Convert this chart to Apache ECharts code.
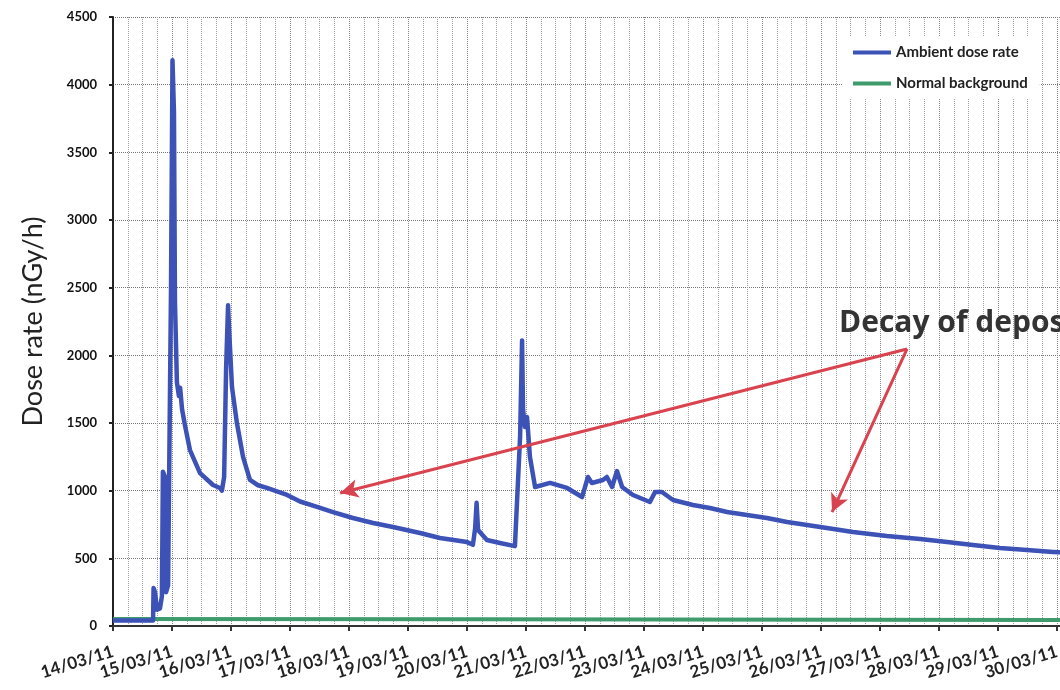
<!DOCTYPE html>
<html>
<head>
<meta charset="utf-8">
<script src="https://cdn.jsdelivr.net/npm/echarts@6/dist/echarts.min.js"></script>
<style>
html,body{margin:0;padding:0;background:#fff;}
#chart{width:1060px;height:690px;}
</style>
</head>
<body>
<div id="chart"></div>
<script>
// Hours since 14/03/11 00:00
var doseHours = [0, 15.0, 16.3, 16.5, 17.1, 17.9, 19.1, 19.9, 20.3, 21.2, 21.6, 22.4, 23.6, 24.2, 24.8, 25.2, 26.0, 26.8, 27.3, 28.1, 29.3, 31.3, 35.4, 40.7, 43.5, 44.3, 45.2, 46.0, 46.8, 47.2, 48.4, 50.4, 52.9, 55.7, 59.0, 62.6, 70.8, 76.1, 83.0, 89.5, 97.6, 105.8, 113.9, 124.9, 133.0, 144.0, 146.4, 147.3, 147.9, 148.5, 152.1, 157.4, 163.5, 164.3, 165.6, 166.4, 166.8, 167.6, 168.4, 169.0, 169.6, 171.7, 177.8, 184.7, 190.8, 193.2, 194.8, 199.3, 200.9, 203.0, 205.0, 207.1, 211.5, 218.4, 220.5, 223.3, 227.8, 235.9, 242.8, 249.8, 257.9, 266.0, 274.2, 282.3, 290.4, 301.0, 314.8, 328.3, 339.3, 349.8, 360.8, 371.8, 382.4, 387.3];
var doseValues = [40, 40, 40, 280, 250, 120, 130, 220, 1140, 1100, 250, 300, 2500, 4180, 3800, 2400, 1800, 1700, 1760, 1600, 1480, 1300, 1130, 1042, 1020, 1000, 1100, 1900, 2370, 2200, 1766, 1500, 1250, 1079, 1040, 1020, 968, 920, 880, 842, 798, 761, 731, 687, 650, 620, 600, 720, 910, 709, 635, 613, 590, 580, 1400, 2110, 1600, 1470, 1545, 1400, 1250, 1027, 1057, 1020, 953, 1101, 1057, 1079, 1101, 1027, 1145, 1027, 968, 916, 990, 990, 931, 894, 872, 842, 820, 798, 768, 746, 724, 695, 665, 643, 620, 598, 576, 561, 547, 542];
var bgHours = [0, 150, 300, 408];
var bgValues = [52, 50, 46, 43];
var dateLabels = ['14/03/11','15/03/11','16/03/11','17/03/11','18/03/11','19/03/11','20/03/11','21/03/11','22/03/11','23/03/11','24/03/11','25/03/11','26/03/11','27/03/11','28/03/11','29/03/11','30/03/11'];
var yTicks = [0, 500, 1000, 1500, 2000, 2500, 3000, 3500, 4000, 4500];
var arrowApex = [323, 2047];
var arrowTips = [[92.4, 983], [292.5, 842]];

function zip(a, b){ return a.map(function(v,i){ return [v, b[i]]; }); }

var chart = echarts.init(document.getElementById('chart'), null, {renderer:'canvas'});
var FONT = 'Lato, "Open Sans", sans-serif';
var option = {
  animation: false,
  backgroundColor: '#fff',
  grid: {left: 113, top: 17, width: 1003, height: 609, containLabel: false, outerBoundsMode: 'none'},
  legend: {
    orient: 'vertical', left: 843, top: 37,
    padding: [8, 12, 8, 10], itemGap: 16,
    backgroundColor: '#fff',
    itemWidth: 38, itemHeight: 4, icon: 'rect',
    textStyle: {fontFamily: FONT, fontWeight: 'bold', fontSize: 15, color: '#222'},
    data: ['Ambient dose rate', 'Normal background']
  },
  xAxis: {
    type: 'value', min: 0, max: 408, interval: 24,
    axisLine: {show: true, lineStyle: {color: '#333', width: 2}},
    axisTick: {show: true, length: 5, lineStyle: {color: '#333', width: 2}},
    minorTick: {show: false, splitNumber: 4},
    minorSplitLine: {show: true, lineStyle: {color: '#a0a0a0', type: 'dotted', width: 1}},
    splitLine: {show: true, lineStyle: {color: '#888', type: 'dotted', width: 1}},
    axisLabel: {
      rotate: 17, margin: 25, fontFamily: FONT, fontWeight: 'bold', fontSize: 17, color: '#222',
      formatter: function(v){ var i = Math.round(v/24); return dateLabels[i] || ''; }
    }
  },
  yAxis: {
    type: 'value', min: 0, max: 4500, interval: 500,
    name: 'Dose rate (nGy/h)', nameLocation: 'middle', nameGap: 66, nameRotate: 90,
    nameTextStyle: {fontFamily: FONT, fontSize: 27, color: '#222'},
    axisLine: {show: true, lineStyle: {color: '#222', width: 2}},
    axisTick: {show: true, length: 4, lineStyle: {color: '#222', width: 2}},
    splitLine: {show: true, lineStyle: {color: '#777', type: 'dotted', width: 1}},
    axisLabel: {
      margin: 16, fontFamily: FONT, fontWeight: 'bold', fontSize: 13, color: '#111',
      formatter: function(v){ return yTicks.indexOf(v) >= 0 ? String(v) : ''; }
    }
  },
  series: [
    {
      name: 'Normal background', type: 'line', data: zip(bgHours, bgValues),
      showSymbol: false, lineStyle: {color: '#3f9b6c', width: 4}, itemStyle: {color: '#3f9b6c'},
      z: 2
    },
    {
      name: 'Ambient dose rate', type: 'line', data: zip(doseHours, doseValues),
      showSymbol: false, lineStyle: {color: '#3d52b6', width: 4.5, join: 'round'}, itemStyle: {color: '#3d52b6'},
      z: 3,
      markLine: {
        silent: true, symbol: ['none', 'arrow'], symbolSize: [14, 18], precision: 3,
        label: {show: false},
        lineStyle: {color: '#d9434f', width: 3, type: 'solid'},
        emphasis: {disabled: true},
        data: arrowTips.map(function(t){ return [{coord: arrowApex}, {coord: t}]; })
      }
    }
  ],
  graphic: [
    {type: 'text', left: 839, top: 308, z: 10,
     style: {text: 'Decay of deposition', fontFamily: '"Open Sans", Lato, sans-serif', fontWeight: 'bold', fontSize: 30, fill: '#333'}}
  ]
};
chart.setOption(option);
</script>
</body>
</html>
